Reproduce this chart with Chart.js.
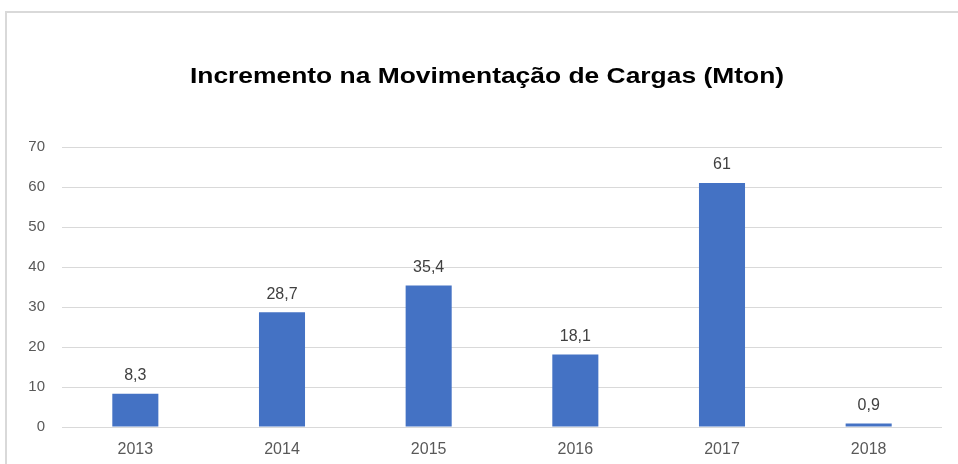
<!DOCTYPE html>
<html>
<head>
<meta charset="utf-8">
<script src="https://cdn.jsdelivr.net/npm/chart.js@4"></script>
<style>
  html, body { margin: 0; padding: 0; background: #fff; }
  #wrap { position: relative; width: 958px; height: 464px; overflow: hidden; }
  #frame { position: absolute; left: 5px; top: 11px; width: 1000px; height: 500px;
           border-left: 2px solid #d9d9d9; border-top: 2px solid #d9d9d9; }
  canvas { position: absolute; left: 0; top: 0; }
</style>
</head>
<body>
<div id="wrap">
  <div id="frame"></div>
  <canvas id="chart" width="958" height="464"></canvas>
</div>
<script>
// Chart data
const years = ['2013', '2014', '2015', '2016', '2017', '2018'];
const increments = [8.3, 28.7, 35.4, 18.1, 61, 0.9];
const yTicks = [0, 10, 20, 30, 40, 50, 60, 70];
const titleText = 'Incremento na Movimentação de Cargas (Mton)';

const FONT = '"Liberation Sans", Arial, sans-serif';

// title drawn by hand: the original is a bit wider than plain Arial
const wideTitle = {
    id: 'wideTitle',
    afterDraw(chart) {
        const ctx = chart.ctx;
        ctx.save();
        ctx.font = 'bold 22px ' + FONT;
        ctx.fillStyle = '#000';
        ctx.textAlign = 'center';
        ctx.textBaseline = 'middle';
        ctx.translate(487, 77);
        ctx.scale(1.2, 1);
        ctx.fillText(titleText, 0, 0);
        ctx.restore();
    }
};

// simple value labels above each bar
const barLabels = {
    id: 'barLabels',
    afterDatasetsDraw(chart) {
        const ctx = chart.ctx;
        const meta = chart.getDatasetMeta(0);
        ctx.save();
        ctx.font = '16px ' + FONT;
        ctx.fillStyle = '#404040';
        ctx.textAlign = 'center';
        ctx.textBaseline = 'middle';
        meta.data.forEach((bar, i) => {
            const txt = String(increments[i]).replace('.', ',');
            ctx.fillText(txt, bar.x, bar.y - 18);
        });
        ctx.restore();
    }
};

const ctx = document.getElementById('chart').getContext('2d');
new Chart(ctx, {
    type: 'bar',
    data: {
        labels: years,
        datasets: [{
            data: increments,
            backgroundColor: '#4472c4',
            barPercentage: 0.314,
            categoryPercentage: 1
        }]
    },
    options: {
        responsive: false,
        animation: false,
        layout: { padding: { left: 0, right: 16, top: 147, bottom: 7 } },
        plugins: {
            legend: { display: false },
            tooltip: { enabled: false },
            title: { display: false }
        },
        scales: {
            x: {
                grid: { display: false },
                border: { display: false },
                ticks: { color: '#595959', font: { family: FONT, size: 16 }, padding: 5 },
                afterFit(s) { s.height = 30; }
            },
            y: {
                min: 0,
                max: 70,
                afterBuildTicks(s) { s.ticks = yTicks.map(v => ({ value: v })); },
                grid: { color: '#d9d9d9', lineWidth: 1, drawTicks: false },
                border: { display: false },
                ticks: { color: '#595959', font: { family: FONT, size: 15 }, padding: 17 },
                afterFit(s) { s.width = 62; }
            }
        }
    },
    plugins: [barLabels, wideTitle]
});
</script>
</body>
</html>
